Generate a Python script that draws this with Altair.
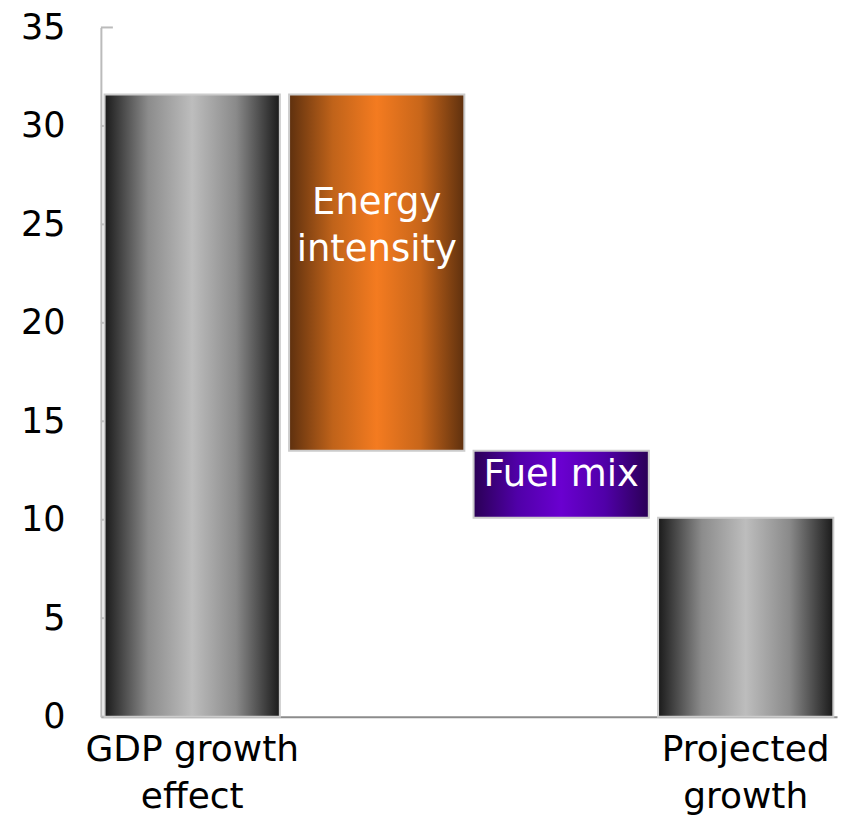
import altair as alt
import pandas as pd

categories = ["GDP growth effect", "Energy intensity", "Fuel mix", "Projected growth"]
starts = [0, 31.6, 13.5, 0]
ends = [31.6, 13.5, 10.1, 10.1]
kinds = ["total", "energy", "fuel", "total"]
bar_labels = ["", "Energy\nintensity", "Fuel mix", ""]
label_y = [None, 26.1, 12.25, None]
y_ticks = [0, 5, 10, 15, 20, 25, 30, 35]

df = pd.DataFrame({"cat": categories, "start": starts, "end": ends, "kind": kinds,
                   "label": bar_labels, "ly": label_y})
ticks_df = pd.DataFrame({"v": y_ticks})

FONT = "DejaVu Sans"

x_enc = alt.X("cat:N", sort=categories,
              scale=alt.Scale(paddingInner=0.05, paddingOuter=0.02),
              axis=alt.Axis(title=None, ticks=False, labelAngle=0, labelFontSize=36,
                            labelFont=FONT, labelColor="black", labelPadding=16,
                            labelLineHeight=47, labelBaseline="top", labelLimit=0,
                            domainColor="#8c8c8c", domainWidth=2,
                            labelExpr="datum.value == 'GDP growth effect' ? ['GDP growth', 'effect'] : datum.value == 'Projected growth' ? ['Projected', 'growth'] : ''"))
y_scale = alt.Scale(domain=[0, 35], nice=False)
y_enc = alt.Y("start:Q", scale=y_scale,
              axis=alt.Axis(title=None, values=y_ticks, ticks=False, grid=False,
                            labelFontSize=35, labelFont=FONT, labelColor="black",
                            labelPadding=36, domainColor="#bbbbbb", domainWidth=2))


def grad(edge, mid1, center, mid2):
    return alt.Gradient(gradient="linear", x1=0, x2=1, y1=0, y2=0,
                        stops=[alt.GradientStop(offset=0, color=edge),
                               alt.GradientStop(offset=0.25, color=mid1),
                               alt.GradientStop(offset=0.5, color=center),
                               alt.GradientStop(offset=0.75, color=mid2),
                               alt.GradientStop(offset=1, color=edge)])


base = alt.Chart(df)
grey = base.transform_filter("datum.kind == 'total'").mark_bar(
    color=grad("#1a1a1a", "#8c8c8c", "#bdbdbd", "#8a8a8a"), stroke="#cccccc", strokeWidth=2
).encode(x=x_enc, y=y_enc, y2="end:Q")
orange = base.transform_filter("datum.kind == 'energy'").mark_bar(
    color=grad("#5e300e", "#c0631a", "#f47b20", "#c8661a"), stroke="#cccccc", strokeWidth=2
).encode(x=x_enc, y=y_enc, y2="end:Q")
purple = base.transform_filter("datum.kind == 'fuel'").mark_bar(
    color=grad("#2a0055", "#5000a8", "#6a00d0", "#5000a8"), stroke="#cccccc", strokeWidth=2
).encode(x=x_enc, y=y_enc, y2="end:Q")

texts = base.transform_filter("datum.label != ''").mark_text(
    color="white", font=FONT, fontSize=37, lineBreak="\n", lineHeight=47,
    align="center", baseline="middle"
).encode(x=alt.X("cat:N", sort=categories), y=alt.Y("ly:Q", scale=y_scale), text="label:N")

tick_rules = alt.Chart(ticks_df).mark_rule(color="#bbbbbb", strokeWidth=2).encode(
    x=alt.value(0), x2=alt.value(12), y=alt.Y("v:Q", scale=y_scale))

chart = alt.layer(tick_rules, grey, orange, purple, texts).properties(
    width=737, height=690,
    background="white",
    autosize=alt.AutoSizeParams(type="none"),
    padding={"left": 93, "top": 19, "right": 10, "bottom": 104},
).configure_view(strokeWidth=0, stroke="transparent")

chart.save("out.html", embed_options={"renderer": "svg", "actions": False})
